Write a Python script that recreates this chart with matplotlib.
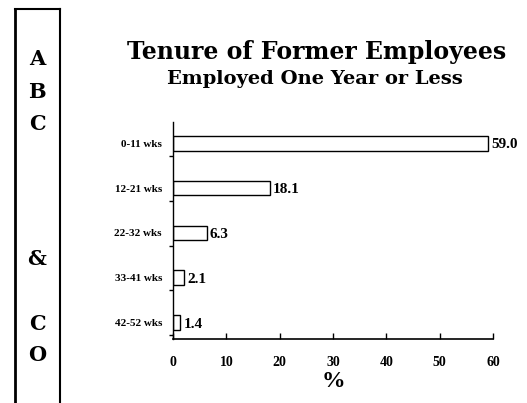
import matplotlib
matplotlib.use("Agg")
import matplotlib.pyplot as plt
from matplotlib.lines import Line2D

categories = ["0-11 wks", "12-21 wks", "22-32 wks", "33-41 wks", "42-52 wks"]
values = [59.0, 18.1, 6.3, 2.1, 1.4]
value_labels = ["59.0", "18.1", "6.3", "2.1", "1.4"]
xticks = [0, 10, 20, 30, 40, 50, 60]
side_letters = ["A", "B", "C", "&", "C", "O"]

W, H = 527, 403
fig = plt.figure(figsize=(W/100, H/100), dpi=100)
serif = "Liberation Serif"
wide = "DejaVu Serif"

def fx(px): return px / W
def fy(py): return 1 - py / H

ax = fig.add_axes([fx(173), fy(339), fx(493) - fx(173), fy(122) - fy(339)])
pos = list(range(len(categories)))
ax.barh(pos, values, height=0.33, color="white", edgecolor="black", linewidth=1.0)
ax.set_ylim(4.36, -0.47)
ax.set_xlim(0, 60)
for s in ["top", "right"]:
    ax.spines[s].set_visible(False)
ax.spines["left"].set_linewidth(1.0)
ax.spines["bottom"].set_linewidth(1.2)

ax.set_yticks(pos)
ax.set_yticklabels(categories, fontfamily=serif, fontweight="bold", fontsize=8)
ax.tick_params(axis="y", which="major", length=0, pad=8)
ax.set_yticks([p + 0.28 for p in pos], minor=True)
ax.tick_params(axis="y", which="minor", length=3, direction="out", width=1)

ax.set_xticks(xticks)
ax.set_xticklabels([str(t) for t in xticks], fontfamily=serif, fontweight="bold", fontsize=10)
ax.tick_params(axis="x", direction="in", length=4, width=1, pad=12)

for p, v, lab in zip(pos, values, value_labels):
    ax.text(v + 0.6, p + 0.04, lab, va="center", ha="left", fontfamily=serif,
            fontweight="bold", fontsize=11)

ax.set_xlabel("%", fontfamily=serif, fontweight="bold", fontsize=17, labelpad=2)

fig.text(fx(317), fy(52), "Tenure of Former Employees", ha="center", va="center",
         fontfamily=wide, fontweight="bold", fontsize=17)
fig.text(fx(315), fy(79), "Employed One Year or Less", ha="center", va="center",
         fontfamily=wide, fontweight="bold", fontsize=14)

# side box
fig.add_artist(Line2D([fx(15), fx(15)], [fy(9), 0], color="black", lw=2))
fig.add_artist(Line2D([fx(60), fx(60)], [fy(9), 0], color="black", lw=1.5))
fig.add_artist(Line2D([fx(15), fx(60)], [fy(9), fy(9)], color="black", lw=1.5))
letter_y = [59, 92, 124, 259, 324, 355]
for L, y in zip(side_letters, letter_y):
    fig.text(fx(37), fy(y), L, ha="center", va="center", fontfamily=wide,
             fontweight="bold", fontsize=15)

fig.savefig("out.png", dpi=100)
